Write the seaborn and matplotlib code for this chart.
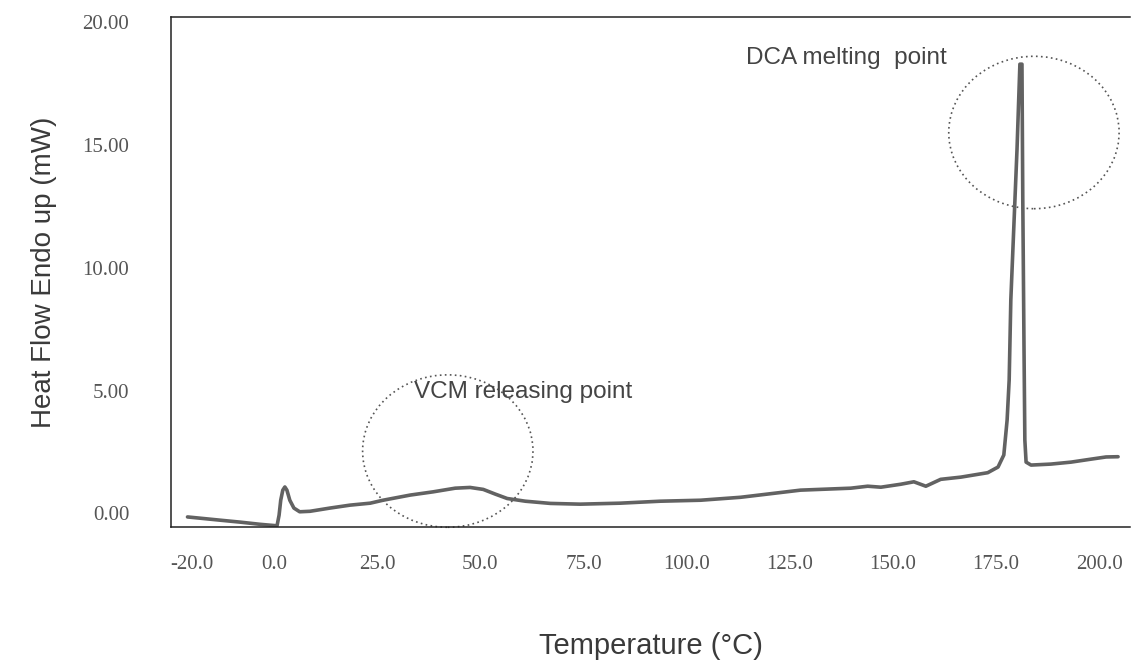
import matplotlib
matplotlib.use("Agg")
import matplotlib.pyplot as plt
from matplotlib.patches import Ellipse
import numpy as np
import pandas as pd
import seaborn as sns

# DSC heating trace: temperature (°C) vs heat flow, endotherm up (mW)
temperature = [-21.0, -18.0, -13.2, -8.3, -3.4, 0.7, 1.2, 1.6, 2.1, 2.6, 3.1, 3.8, 4.8,
               6.2, 8.7, 13.5, 18.4, 23.3, 26.4, 33.0, 38.5, 43.9, 47.5, 50.7, 53.6,
               56.5, 60.9, 67.0, 74.2, 83.9, 93.6, 103.4, 113.1, 127.6, 139.8, 143.9,
               147.1, 151.9, 155.1, 158.0, 161.6, 166.5, 173.0, 175.5, 176.9, 177.7,
               178.2, 178.6, 179.3, 180.1, 180.8, 181.3, 181.5, 181.8, 182.0, 182.3,
               183.5, 188.3, 193.2, 198.0, 201.7, 204.6]
heat_flow = [-0.14, -0.19, -0.27, -0.35, -0.44, -0.50, -0.07, 0.54, 0.95, 1.08, 0.95, 0.54,
             0.22, 0.07, 0.09, 0.22, 0.34, 0.42, 0.54, 0.75, 0.88, 1.03, 1.06, 0.98, 0.79,
             0.61, 0.50, 0.41, 0.38, 0.42, 0.50, 0.54, 0.66, 0.95, 1.03, 1.11, 1.07, 1.19,
             1.29, 1.11, 1.39, 1.48, 1.66, 1.89, 2.38, 3.80, 5.43, 8.69, 11.55, 14.81,
             18.28, 18.28, 12.77, 6.66, 2.99, 2.09, 1.97, 2.01, 2.09, 2.21, 2.30, 2.31]

x_ticks = [-20.0, 0.0, 25.0, 50.0, 75.0, 100.0, 125.0, 150.0, 175.0, 200.0]
y_ticks = [0.0, 5.0, 10.0, 15.0, 20.0]

annotations = ["VCM releasing point", "DCA melting  point"]

df = pd.DataFrame({"Temperature": temperature, "HeatFlow": heat_flow})

sns.set_style("white")
plt.rcParams["font.family"] = ["Liberation Sans", "DejaVu Sans"]

fig = plt.figure(figsize=(11.34, 6.63), dpi=100)
ax = fig.add_axes([0.1508, 0.2051, 0.8457, 0.7693])

sns.lineplot(data=df, x="Temperature", y="HeatFlow", ax=ax, sort=False,
             estimator=None, color="#626262", linewidth=2.6)

ax.set_xlim(-25.0, 207.5)
ax.set_ylim(-0.55, 20.2)
ax.set_xticks(x_ticks)
ax.set_xticklabels([f"{v:.1f}" for v in x_ticks])
ax.set_yticks(y_ticks)
ax.set_yticklabels([f"{v:.2f}" for v in y_ticks])
ax.tick_params(axis="both", length=0, colors="#555555", labelsize=15)
ax.tick_params(axis="x", pad=20)
ax.tick_params(axis="y", pad=30)
for lab in ax.get_xticklabels() + ax.get_yticklabels():
    lab.set_family(["Liberation Serif", "DejaVu Serif"])

for side in ["left", "top", "bottom"]:
    ax.spines[side].set_visible(True)
    ax.spines[side].set_color("#222222")
    ax.spines[side].set_linewidth(1.1)
ax.spines["right"].set_visible(False)

ax.set_xlabel("Temperature (°C)", fontsize=21, color="#3a3a3a", labelpad=42)
ax.set_ylabel("Heat Flow Endo up (mW)", fontsize=20, color="#3a3a3a", labelpad=18)

# Dotted rings highlighting the two thermal events
for (cx, cy) in [(42.1, 2.54), (184.2, 15.5)]:
    ax.add_patch(Ellipse((cx, cy), 41.3, 6.2, fill=False, edgecolor="#555555",
                         linestyle=(0, (1, 2)), linewidth=1.2, clip_on=False))

ax.text(34.0, 4.95, annotations[0], fontsize=17.5, color="#444444", va="center")
ax.text(114.4, 18.55, annotations[1], fontsize=17.5, color="#444444", va="center")

fig.savefig("out.png", dpi=100)
